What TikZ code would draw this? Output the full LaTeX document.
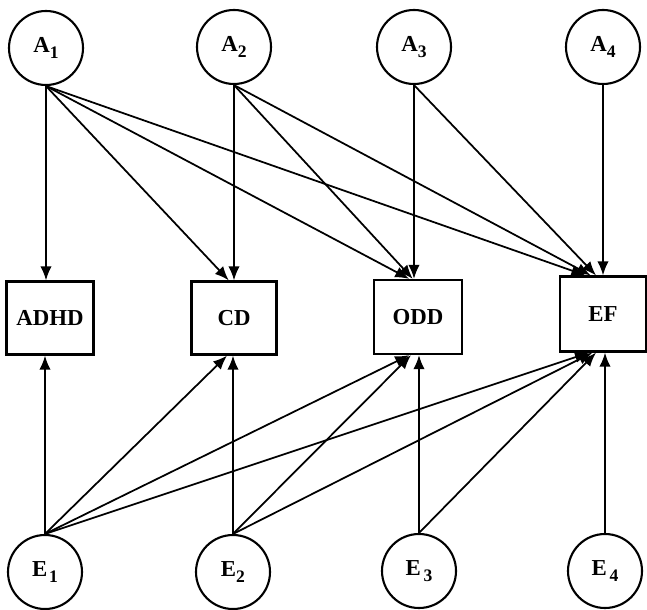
\documentclass[tikz,border=0pt]{standalone}
\usepackage{fontspec}
\setmainfont{Liberation Serif}
\usetikzlibrary{arrows.meta}
\newcommand{\lbl}[2]{#1\raisebox{-3.5pt}{\fontsize{10}{10}\selectfont #2}}
\begin{document}
\begin{tikzpicture}[>={Latex[length=8pt,width=6.5pt]}, line width=1pt,
	every node/.style={inner sep=0pt, font=\fontsize{13}{13}\selectfont\bfseries},
	latent/.style={circle, draw, line width=1.2pt, minimum size=1.48cm},
	outcome/.style={rectangle, draw, line width=1.3pt, minimum width=1.74cm, minimum height=1.46cm}]
	\useasboundingbox (0,0) rectangle (12.94,12.18);
	%Additive factors
	\node [latent] (A1) at (0.92,11.22) {\lbl{A}{1}};
	\node [latent] (A2) at (4.68,11.24) {\lbl{A}{2}};
	\node [latent] (A3) at (8.28,11.24) {\lbl{A}{3}};
	\node [latent] (A4) at (12.06,11.24) {\lbl{A}{4}};
	%Measures
	\node [outcome] (ADHD) at (1.00,5.82) {ADHD};
	\node [outcome, minimum width=1.70cm] (CD) at (4.68,5.82) {CD};
	\node [outcome, minimum width=1.76cm, minimum height=1.48cm] (ODD) at (8.36,5.84) {ODD};
	\node [outcome, minimum width=1.72cm, minimum height=1.50cm] (EF) at (12.06,5.90) {EF};
	%Environment factors
	\node [latent] (E1) at (0.90,0.74) {\lbl{E\kern1pt}{1}};
	\node [latent] (E2) at (4.66,0.74) {\lbl{E}{2}};
	\node [latent] (E3) at (8.38,0.76) {\lbl{E\kern1.5pt}{3}};
	\node [latent] (E4) at (12.10,0.76) {\lbl{E\kern1.5pt}{4}};
	%Paths from A
	\draw[->] (A1.south) -- (A1.south |- ADHD.north);
	\draw[->] (A1.south) -- ([xshift=-3pt]CD.north);
	\draw[->] (A1.south) -- ([xshift=-5pt]ODD.north);
	\draw[->] (A1.south) -- ([xshift=-10pt]EF.north);
	\draw[->] (A2.south) -- (A2.south |- CD.north);
	\draw[->] (A2.south) -- ([xshift=-3pt]ODD.north);
	\draw[->] (A2.south) -- ([xshift=-7pt]EF.north);
	\draw[->] (A3.south) -- (A3.south |- ODD.north);
	\draw[->] (A3.south) -- ([xshift=-4pt]EF.north);
	\draw[->] (A4.south) -- (A4.south |- EF.north);
	%Paths from E
	\draw[->] (E1.north) -- (E1.north |- ADHD.south);
	\draw[->] (E1.north) -- ([xshift=-4pt]CD.south);
	\draw[->] (E1.north) -- ([xshift=-5pt]ODD.south);
	\draw[->] (E1.north) -- ([xshift=-8pt]EF.south);
	\draw[->] (E2.north) -- (E2.north |- CD.south);
	\draw[->] (E2.north) -- ([xshift=-4pt]ODD.south);
	\draw[->] (E2.north) -- ([xshift=-6pt]EF.south);
	\draw[->] (E3.north) -- (E3.north |- ODD.south);
	\draw[->] (E3.north) -- ([xshift=-4pt]EF.south);
	\draw[->] (E4.north) -- (E4.north |- EF.south);
\end{tikzpicture}
\end{document}
